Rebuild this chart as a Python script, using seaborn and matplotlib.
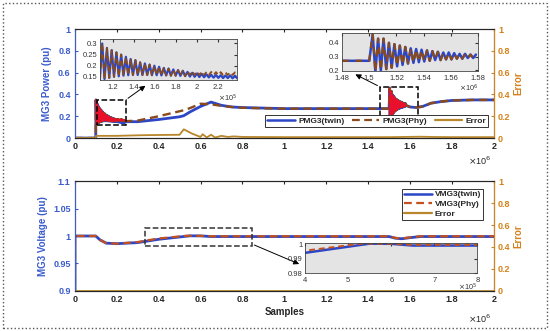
import numpy as np
import seaborn as sns
import matplotlib.pyplot as plt
from matplotlib.patches import Rectangle
from matplotlib.lines import Line2D

sns.set_style("white")
plt.rcParams['font.family'] = ['Liberation Sans', 'DejaVu Sans']

BLUE = "#2c46c6"
PHY_TOP = "#8a4b1c"
PHY_BOT = "#c4501e"
ERR = "#b8862b"
RED = "#e8102a"
LBLUE = "#3a5ccc"
ORANGE = "#d4821a"

# ---- top panel data (x in units of 1e6 samples) ----
start_t = [0.0, 0.1]
start_v = [0.0, 0.0]

# first disturbance (~0.1e6): peaks / troughs
osc1_pk_t = [0.1010, 0.1055, 0.1100, 0.1145, 0.1190, 0.1235, 0.1280, 0.1325, 0.1370, 0.1415,
             0.1460, 0.1505, 0.1550, 0.1595, 0.1640, 0.1685, 0.1730, 0.1775, 0.1820, 0.1865,
             0.1910, 0.1955, 0.2000, 0.2045, 0.2090, 0.2135, 0.2180, 0.2225, 0.2270, 0.2315, 0.2360]
osc1_tr_t = [0.1032, 0.1077, 0.1122, 0.1167, 0.1212, 0.1257, 0.1302, 0.1347, 0.1392, 0.1437,
             0.1482, 0.1527, 0.1572, 0.1617, 0.1662, 0.1707, 0.1752, 0.1797, 0.1842, 0.1887,
             0.1932, 0.1977, 0.2022, 0.2067, 0.2112, 0.2157, 0.2202, 0.2247, 0.2292, 0.2337, 0.2382]
twin1_pk = [0.35, 0.32, 0.30, 0.28, 0.27, 0.26, 0.25, 0.24, 0.23, 0.225, 0.215, 0.21, 0.205, 0.20,
            0.195, 0.19, 0.187, 0.183, 0.18, 0.177, 0.172, 0.168, 0.165, 0.163, 0.161, 0.159,
            0.158, 0.157, 0.156, 0.156, 0.155]
twin1_tr = [0.13, 0.135, 0.14, 0.145, 0.15, 0.152, 0.155, 0.157, 0.158, 0.158, 0.158, 0.158,
            0.157, 0.157, 0.156, 0.156, 0.155, 0.155, 0.154, 0.153, 0.151, 0.150, 0.149, 0.148,
            0.147, 0.146, 0.145, 0.144, 0.144, 0.143, 0.143]
phy1_pk = twin1_pk[:20] + [0.176, 0.175, 0.174, 0.173, 0.172, 0.172, 0.171, 0.171, 0.170, 0.170, 0.170]
phy1_tr = twin1_tr[:20] + [0.158, 0.158, 0.158, 0.158, 0.158, 0.158, 0.158, 0.158, 0.158, 0.158, 0.158]

mid_t = [0.245, 0.3, 0.4, 0.5, 0.52, 0.55, 0.6, 0.65, 0.7, 0.75, 0.8, 0.9, 1.0, 1.2, 1.4, 1.5]
twin_mid = [0.15, 0.15, 0.17, 0.195, 0.205, 0.24, 0.29, 0.33, 0.30, 0.285, 0.28, 0.275, 0.27, 0.27, 0.27, 0.27]
phy_mid = [0.155, 0.16, 0.20, 0.245, 0.255, 0.275, 0.315, 0.31, 0.295, 0.285, 0.278, 0.273, 0.27, 0.27, 0.27, 0.27]

# second disturbance (~1.5e6)
osc2_pk_t = [1.5025, 1.5065, 1.5105, 1.5145, 1.5185, 1.5225, 1.5265, 1.5305, 1.5345, 1.5385,
             1.5425, 1.5465, 1.5505, 1.5545, 1.5585, 1.5625, 1.5665, 1.5705, 1.5745, 1.5785]
osc2_tr_t = [1.5045, 1.5085, 1.5125, 1.5165, 1.5205, 1.5245, 1.5285, 1.5325, 1.5365, 1.5405,
             1.5445, 1.5485, 1.5525, 1.5565, 1.5605, 1.5645, 1.5685, 1.5725, 1.5765]
osc2_pk = [0.46, 0.43, 0.43, 0.40, 0.39, 0.38, 0.37, 0.36, 0.355, 0.35, 0.345, 0.34, 0.335,
           0.33, 0.33, 0.325, 0.32, 0.32, 0.315, 0.315]
osc2_tr = [0.19, 0.20, 0.21, 0.22, 0.23, 0.24, 0.25, 0.255, 0.26, 0.265, 0.27, 0.275, 0.275,
           0.28, 0.28, 0.285, 0.285, 0.29, 0.29]

end_t = [1.58, 1.6, 1.63, 1.66, 1.7, 1.75, 1.8, 1.9, 2.0]
end_v = [0.30, 0.285, 0.28, 0.29, 0.32, 0.335, 0.345, 0.35, 0.35]

err_t = [0, 0.1, 0.101, 0.2, 0.3, 0.4, 0.5, 0.52, 0.56, 0.6, 0.61, 0.63, 0.65, 0.67, 0.7,
         0.73, 0.76, 0.8, 1.0, 1.5, 1.65, 1.7, 1.8, 2.0]
err_v = [0, 0, 0.02, 0.02, 0.025, 0.028, 0.03, 0.08, 0.04, 0.01, 0.035, 0.005, 0.03, 0.005,
         0.02, 0.01, 0.015, 0.01, 0.008, 0.008, 0.012, 0.01, 0.008, 0.008]

# ---- bottom panel data ----
volt_t = [0, 0.001, 0.1, 0.12, 0.15, 0.2, 0.3, 0.4, 0.53, 0.55, 0.6, 0.65, 0.7, 1.5, 1.53, 1.56, 1.6, 1.65, 2.0]
volt_twin = [0, 1.0, 1.0, 0.993, 0.987, 0.986, 0.988, 0.994, 0.9995, 1.0003, 1.0002, 0.999,
             0.999, 0.999, 0.996, 0.995, 0.997, 0.999, 0.999]
volt_phy = [0, 1.0, 1.0, 0.993, 0.987, 0.986, 0.989, 0.9955, 1.0003, 1.0003, 1.0002, 0.9995,
            0.9995, 0.9995, 0.9965, 0.9955, 0.9975, 0.9995, 0.9995]
err2_t = [0, 2.0]
err2_v = [0, 0]


def interleave(pk_t, pk_v, tr_t, tr_v):
    t = np.concatenate([pk_t, tr_t])
    v = np.concatenate([pk_v, tr_v])
    o = np.argsort(t)
    return t[o], v[o]


o1_t, twin1 = interleave(osc1_pk_t, twin1_pk, osc1_tr_t, twin1_tr)
_, phy1 = interleave(osc1_pk_t, phy1_pk, osc1_tr_t, phy1_tr)
o2_t, osc2 = interleave(osc2_pk_t, osc2_pk, osc2_tr_t, osc2_tr)

twin_t = np.concatenate([start_t, o1_t, mid_t, [1.5], o2_t, end_t])
twin_v = np.concatenate([start_v, twin1, twin_mid, [0.27], osc2, end_v])
phy_v = np.concatenate([start_v, phy1, phy_mid, [0.27], osc2, end_v])


def line(ax, x, y, color, lw=1.8, dashes=None, z=2):
    sns.lineplot(x=np.asarray(x), y=np.asarray(y), ax=ax, color=color, lw=lw,
                 sort=False, estimator=None, zorder=z)
    ln = ax.get_lines()[-1]
    if dashes is not None:
        ln.set_dashes(dashes)
    return ln


def style_main(ax, ax2, ylim, yticks, ylabel, off_y):
    ax.set_xlim(0, 2)
    ax.set_ylim(*ylim)
    ax.set_yticks(yticks)
    ax.set_xticks([0, 0.2, 0.4, 0.6, 0.8, 1, 1.2, 1.4, 1.6, 1.8, 2])
    ax.set_xticklabels(["0", "0.2", "0.4", "0.6", "0.8", "1", "1.2", "1.4", "1.6", "1.8", "2"])
    ax.tick_params(axis="x", direction="in", length=2.5, top=True, labelsize=6.5, pad=3)
    ax.tick_params(axis="y", direction="in", length=2.5, labelsize=6.5, colors=LBLUE, pad=3)
    for lab in ax.get_xticklabels():
        lab.set_fontweight("bold")
    ax.set_ylabel(ylabel, color=LBLUE, fontsize=7, fontweight="bold", labelpad=4)
    ax.set_xlabel("")
    ax2.set_ylim(0, 1)
    ax2.set_yticks([0, 0.2, 0.4, 0.6, 0.8, 1])
    ax2.set_yticklabels(["0", "0.2", "0.4", "0.6", "0.8", "1"])
    ax2.tick_params(axis="y", direction="in", length=2.5, labelsize=6.5, colors=ORANGE, pad=3)
    for lab in ax2.get_yticklabels():
        lab.set_fontweight("bold")
    ax2.set_ylabel("Error", color=ORANGE, fontsize=7, fontweight="bold", labelpad=2)
    for s in ["top", "bottom"]:
        ax.spines[s].set_color("#333333")
        ax.spines[s].set_linewidth(0.8)
    ax2.spines["left"].set_color(LBLUE)
    ax2.spines["right"].set_color(ORANGE)
    for s in ax2.spines.values():
        s.set_linewidth(0.8)
    ax.text(0.995, off_y, r"$\times$10$^6$", transform=ax.transAxes, ha="right", va="top", fontsize=6.5)


def style_inset(ax, xlim, ylim, xticks, yticks, xtl, ytl, off):
    ax.set_facecolor("#e4e4e4")
    ax.set_xlim(*xlim)
    ax.set_ylim(*ylim)
    ax.set_xticks(xticks)
    ax.set_xticklabels(xtl)
    ax.set_yticks(yticks)
    ax.set_yticklabels(ytl)
    ax.tick_params(direction="in", length=2, labelsize=5.5, pad=2, colors="#333333", top=True, right=True)
    ax.tick_params(axis="x", pad=2.5)
    ax.set_xlabel("")
    ax.set_ylabel("")
    for s in ax.spines.values():
        s.set_linewidth(0.6)
        s.set_color("#444444")
    ax.text(1.0, -0.3, off, transform=ax.transAxes, ha="right", va="top", fontsize=5.2, color="#333333")


fig = plt.figure(figsize=(5.5, 3.31), dpi=100)

# ================= top panel =================
ax = fig.add_axes([0.136, 0.583, 0.762, 0.329])
ax2 = ax.twinx()
line(ax, twin_t, twin_v, BLUE, lw=2.0)
line(ax, twin_t, phy_v, PHY_TOP, lw=1.7, dashes=(3.5, 2))
line(ax, o1_t, phy1, RED, lw=0.8, z=3)
line(ax, o2_t, osc2, RED, lw=0.8, z=3)
line(ax2, err_t, err_v, ERR, lw=1.3)
style_main(ax, ax2, (0, 1), [0, 0.2, 0.4, 0.6, 0.8, 1], "MG3 Power (pu)", -0.15)
ax.set_yticklabels(["0", "0.2", "0.4", "0.6", "0.8", "1"])
for lab in ax.get_yticklabels():
    lab.set_fontweight("bold")

ax.add_patch(Rectangle((0.105, 0.12), 0.138, 0.23, fill=False, ls="--", lw=1.1, ec="black", zorder=5))
ax.add_patch(Rectangle((1.456, 0.19), 0.181, 0.28, fill=False, ls="--", lw=1.1, ec="black", zorder=5))
ax.annotate("", xy=(0.348, 0.495), xytext=(0.243, 0.35),
            arrowprops=dict(arrowstyle="-|>", color="black", lw=0.7, mutation_scale=8), zorder=6)
ax.annotate("", xy=(1.327, 0.596), xytext=(1.456, 0.47),
            arrowprops=dict(arrowstyle="-|>", color="black", lw=0.7, mutation_scale=8), zorder=6)

handles = [Line2D([], [], color=BLUE, lw=1.8),
           Line2D([], [], color=PHY_TOP, lw=1.6, dashes=(3.5, 2)),
           Line2D([], [], color=ERR, lw=1.6)]
leg = ax2.legend(handles, ["PMG3(twin)", "PMG3(Phy)", "Error"], ncol=3, loc="lower right",
                 bbox_to_anchor=(0.997, 0.065), prop={"weight": "bold", "size": 6},
                 handlelength=3.3, columnspacing=0.9, handletextpad=0.4, borderpad=0.25,
                 fancybox=False, framealpha=1, edgecolor="#333333")
leg.get_frame().set_linewidth(0.7)

# inset 1
ia = fig.add_axes([0.182, 0.758, 0.249, 0.124])
x1 = np.asarray(o1_t) * 10
line(ia, x1, twin1, BLUE, lw=1.6)
line(ia, x1, phy1, PHY_TOP, lw=1.3, dashes=(3, 2))
style_inset(ia, (1.08, 2.38), (0.135, 0.32), [1.2, 1.4, 1.6, 1.8, 2.0, 2.2], [0.15, 0.2, 0.25, 0.3],
            ["1.2", "1.4", "1.6", "1.8", "2", "2.2"], ["0.15", "0.2", "0.25", "0.3"], r"$\times$10$^5$")

# inset 2
ib = fig.add_axes([0.622, 0.785, 0.247, 0.115])
x2 = np.concatenate([[1.48, 1.5], o2_t])
y2 = np.concatenate([[0.27, 0.27], osc2])
line(ib, x2, y2, BLUE, lw=1.8)
line(ib, x2, y2, PHY_TOP, lw=1.6, dashes=(3, 3))
style_inset(ib, (1.48, 1.58), (0.195, 0.47), [1.48, 1.5, 1.52, 1.54, 1.56, 1.58], [0.2, 0.3, 0.4],
            ["1.48", "1.5", "1.52", "1.54", "1.56", "1.58"], ["0.2", "0.3", "0.4"], r"$\times$10$^6$")

# ================= bottom panel =================
bx = fig.add_axes([0.136, 0.121, 0.762, 0.332])
bx2 = bx.twinx()
line(bx, volt_t, volt_twin, BLUE, lw=2.0)
line(bx, volt_t, volt_phy, PHY_BOT, lw=1.6, dashes=(3.5, 2))
line(bx2, err2_t, err2_v, ERR, lw=2.0)
style_main(bx, bx2, (0.9, 1.1), [0.9, 0.95, 1.0, 1.05, 1.1], "MG3 Voltage (pu)", -0.2)
bx.set_yticklabels(["0.9", "0.95", "1", "1.05", "1.1"])
for lab in bx.get_yticklabels():
    lab.set_fontweight("bold")
bx.set_xlabel("Samples", fontsize=7, fontweight="bold", labelpad=2)

bx.add_patch(Rectangle((0.334, 0.982), 0.511, 0.0325, fill=False, ls="--", lw=1.1, ec="#333333", zorder=5))
bx.annotate("", xy=(1.083, 0.947), xytext=(0.845, 0.9855),
            arrowprops=dict(arrowstyle="-|>", color="black", lw=0.7, mutation_scale=8), zorder=6)

handles2 = [Line2D([], [], color=BLUE, lw=1.8),
            Line2D([], [], color=PHY_BOT, lw=1.6, dashes=(3.5, 2)),
            Line2D([], [], color=ERR, lw=1.6)]
leg2 = bx2.legend(handles2, ["VMG3(twin)", "VMG3(Phy)", "Error"], loc="upper right",
                  bbox_to_anchor=(0.985, 0.97), prop={"weight": "bold", "size": 6},
                  handlelength=3.4, handletextpad=0.3, labelspacing=0.25, borderpad=0.25,
                  fancybox=False, framealpha=1, edgecolor="#333333")
leg2.get_frame().set_linewidth(0.7)

# inset 3
ic = fig.add_axes([0.555, 0.175, 0.313, 0.091])
x3 = np.asarray(volt_t) * 10
line(ic, x3, volt_twin, BLUE, lw=1.8)
line(ic, x3, volt_phy, PHY_BOT, lw=1.4, dashes=(3, 2))
style_inset(ic, (4, 8), (0.98, 1.0008), [4, 5, 6, 7, 8], [0.98, 0.99, 1.0],
            ["4", "5", "6", "7", "8"], ["0.98", "0.99", "1"], r"$\times$10$^5$")

fig.patches.append(Rectangle((0.006, 0.01), 0.988, 0.98, transform=fig.transFigure, fill=False,
                             ls=":", lw=1.0, ec="#555555"))

fig.savefig("out.png", dpi=100)
